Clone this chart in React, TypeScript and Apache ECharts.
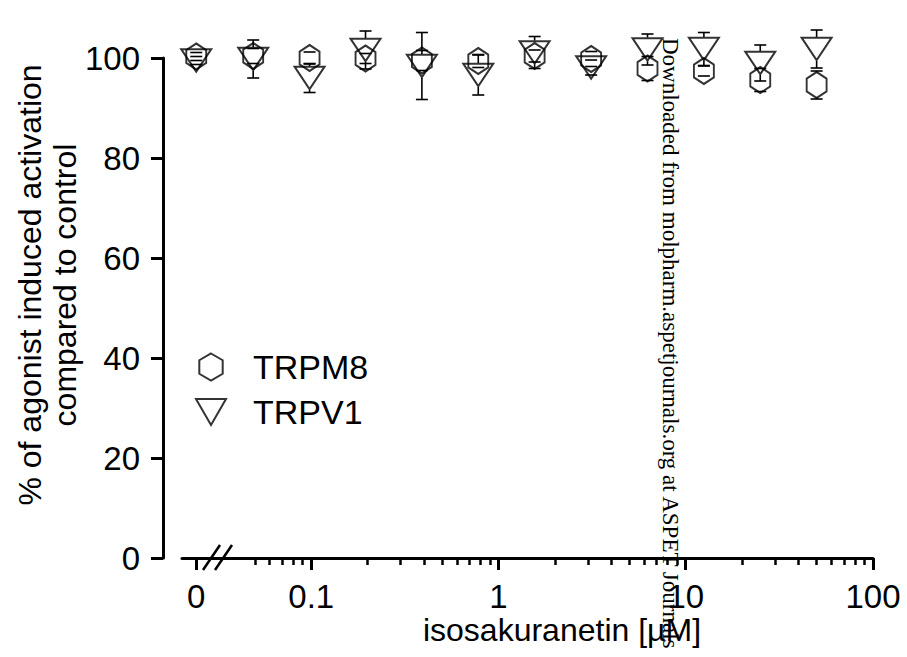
import { useEffect, useRef } from 'react';
import * as echarts from 'echarts';

// Concentrations of isosakuranetin (µM); 0 = control, drawn at the axis break
const concentrations = [0, 0.049, 0.098, 0.195, 0.39, 0.78, 1.56, 3.125, 6.25, 12.5, 25, 50];
const trpm8Mean = [100.3, 100.4, 100.0, 99.9, 99.5, 99.4, 100.4, 99.8, 97.9, 97.4, 95.6, 94.6];
const trpm8Sd = [0.8, 1.5, 1.2, 1.0, 2.0, 1.3, 1.2, 1.5, 2.4, 1.0, 2.3, 2.8];
const trpv1Mean = [99.5, 99.8, 96.0, 101.6, 98.4, 96.6, 101.1, 98.1, 101.7, 101.8, 99.0, 101.8];
const trpv1Sd = [0.8, 3.8, 2.9, 3.8, 6.7, 4.0, 3.2, 1.5, 3.1, 3.3, 3.6, 3.8];

const seriesNames = ['TRPM8', 'TRPV1'];
const xTickValues = [0, 0.1, 1, 10, 100];
const xTickLabels = ['0', '0.1', '1', '10', '100'];
const minorMultipliers = [2, 3, 4, 5, 6, 7, 8, 9];
const minorDecades = [0.01, 0.1, 1, 10];
const yTicks = [0, 20, 40, 60, 80, 100];

const xTitle = 'isosakuranetin [µM]';
const yTitle = '% of agonist induced activation\ncompared to control';
const watermark = 'Downloaded from molpharm.aspetjournals.org at ASPET Journals';

const ZERO_LOG = -1.614; // axis position used for the control (0) value
const X_MIN = -1.69;
const X_MAX = 2;
const toX = (c: number) => (c === 0 ? ZERO_LOG : Math.log10(c));

const SANS = '"Liberation Sans", Arial, Helvetica, sans-serif';
const SERIF = '"Liberation Serif", "Times New Roman", serif';

const HEX = 'path://M0,-10L8.66,-5L8.66,5L0,10L-8.66,5L-8.66,-5Z';
const TRI = 'path://M-10,-8.66L10,-8.66L0,8.66Z';

export default function App() {
  const ref = useRef<HTMLDivElement>(null);
  useEffect(() => {
    document.body.style.margin = '0';
    if (!ref.current) return;
    const chart = echarts.init(ref.current, null, { renderer: 'svg' });

    const majorPos = xTickValues.map(toX);
    const minorPos: number[] = [];
    minorDecades.forEach((d) =>
      minorMultipliers.forEach((m) => {
        const v = d * m;
        if (v >= 0.05 && v < 100) minorPos.push(Math.log10(v));
      })
    );

    const labelFor = (v: number) => {
      let best = 0;
      let bd = Infinity;
      majorPos.forEach((p, i) => {
        const d = Math.abs(p - v);
        if (d < bd) {
          bd = d;
          best = i;
        }
      });
      return bd < 1e-6 ? xTickLabels[best] : '';
    };

    const meanData = (means: number[]) => concentrations.map((c, i) => [toX(c), means[i]]);
    const errData = (means: number[], sds: number[]) =>
      concentrations.map((c, i) => [toX(c), means[i], sds[i]]);

    const errorRender = (half: number) => (params: any, api: any) => {
      const x = api.value(0);
      const m = api.value(1);
      const s = api.value(2);
      const c = api.coord([x, m]);
      const top = api.coord([x, m + s]);
      const bot = api.coord([x, m - s]);
      const cap = 6;
      const st = { stroke: '#000', lineWidth: 1.6 };
      const children: any[] = [];
      if (c[1] - top[1] > half) {
        children.push({ type: 'line', shape: { x1: c[0], y1: c[1] - half, x2: top[0], y2: top[1] }, style: st });
      }
      if (bot[1] - c[1] > half) {
        children.push({ type: 'line', shape: { x1: c[0], y1: c[1] + half, x2: bot[0], y2: bot[1] }, style: st });
      }
      children.push({ type: 'line', shape: { x1: top[0] - cap, y1: top[1], x2: top[0] + cap, y2: top[1] }, style: st });
      children.push({ type: 'line', shape: { x1: bot[0] - cap, y1: bot[1], x2: bot[0] + cap, y2: bot[1] }, style: st });
      return { type: 'group', children };
    };

    chart.setOption({
      animation: false,
      backgroundColor: '#fff',
      grid: { left: 182, right: 34, top: 58, bottom: 99, containLabel: false },
      xAxis: [
        {
          type: 'value',
          min: X_MIN,
          max: X_MAX,
          splitLine: { show: false },
          axisLine: { show: true, onZero: false, lineStyle: { color: '#000', width: 3 } },
          axisTick: { show: true, customValues: majorPos, length: 12, lineStyle: { color: '#000', width: 3 } },
          axisLabel: {
            customValues: majorPos,
            formatter: (v: number) => labelFor(v),
            fontSize: 33,
            fontFamily: SANS,
            color: '#000',
            margin: 22,
          },
        },
        {
          type: 'value',
          min: X_MIN,
          max: X_MAX,
          position: 'bottom',
          splitLine: { show: false },
          axisLine: { show: false, onZero: false },
          axisTick: { show: true, customValues: minorPos, length: 7, lineStyle: { color: '#000', width: 2.5 } },
          axisLabel: { show: false },
        },
      ],
      yAxis: {
        type: 'value',
        min: 0,
        max: 100,
        interval: 20,
        offset: 19,
        splitLine: { show: false },
        axisLine: { show: true, onZero: false, lineStyle: { color: '#000', width: 3 } },
        axisTick: { show: true, length: 12, lineStyle: { color: '#000', width: 3 } },
        axisLabel: {
          fontSize: 33,
          fontFamily: SANS,
          color: '#000',
          margin: 23,
          customValues: yTicks,
        },
      },
      legend: {
        orient: 'vertical',
        left: 190,
        top: 345,
        itemWidth: 30,
        itemHeight: 27,
        itemGap: 11,
        data: seriesNames,
        textStyle: { fontSize: 34, fontFamily: SANS, color: '#000', padding: [0, 0, 0, 22] },
      },
      series: [
        {
          name: seriesNames[0],
          type: 'scatter',
          data: meanData(trpm8Mean),
          symbol: HEX,
          symbolSize: [23, 26],
          symbolKeepAspect: true,
          clip: false,
          z: 3,
          itemStyle: { color: 'transparent', borderColor: '#000', borderWidth: 2 },
        },
        {
          name: seriesNames[1],
          type: 'scatter',
          data: meanData(trpv1Mean),
          symbol: TRI,
          symbolSize: [30, 26],
          symbolKeepAspect: true,
          clip: false,
          z: 3,
          itemStyle: { color: 'transparent', borderColor: '#000', borderWidth: 2 },
        },
        {
          name: 'TRPM8 error',
          type: 'custom',
          data: errData(trpm8Mean, trpm8Sd),
          renderItem: errorRender(12.5),
          clip: false,
          z: 2,
        },
        {
          name: 'TRPV1 error',
          type: 'custom',
          data: errData(trpv1Mean, trpv1Sd),
          renderItem: errorRender(12),
          clip: false,
          z: 2,
        },
      ],
      graphic: [
        {
          type: 'line',
          shape: { x1: 203, y1: 570, x2: 220, y2: 545 },
          style: { stroke: '#000', lineWidth: 2.5 },
          z: 10,
        },
        {
          type: 'line',
          shape: { x1: 215, y1: 570, x2: 232, y2: 545 },
          style: { stroke: '#000', lineWidth: 2.5 },
          z: 10,
        },
        {
          type: 'text',
          x: 47,
          y: 285,
          rotation: Math.PI / 2,
          style: {
            text: yTitle,
            font: `32px ${SANS}`,
            fill: '#000',
            textAlign: 'center',
            textVerticalAlign: 'middle',
            lineHeight: 35,
          },
        },
        {
          type: 'text',
          x: 562,
          y: 630,
          style: {
            text: xTitle,
            font: `32px ${SANS}`,
            fill: '#000',
            textAlign: 'center',
            textVerticalAlign: 'middle',
          },
        },
        {
          type: 'text',
          x: 670,
          y: 38,
          rotation: -Math.PI / 2,
          z: 20,
          style: {
            text: watermark,
            font: `23px ${SERIF}`,
            fill: '#000',
            textAlign: 'left',
            textVerticalAlign: 'middle',
          },
        },
      ],
    });
    return () => chart.dispose();
  }, []);
  return <div ref={ref} style={{ width: 907, height: 657 }} />;
}
